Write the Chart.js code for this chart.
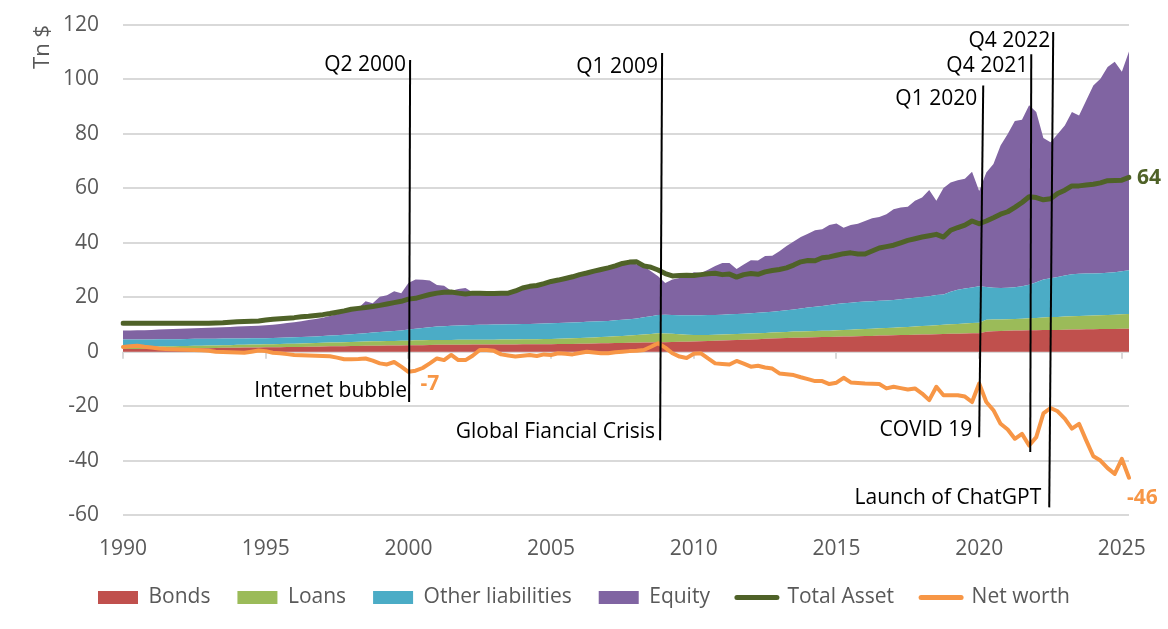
<!DOCTYPE html>
<html><head><meta charset="utf-8">
<script src="https://cdn.jsdelivr.net/npm/chart.js@4.4.1/dist/chart.umd.min.js"></script>
<style>html,body{margin:0;padding:0;background:#fff;}canvas{display:block;}</style>
</head><body>
<canvas id="c" width="1168" height="629"></canvas>
<script>
const FONT = "'Open Sans', sans-serif";

// Categories: quarters from Q1 1990 to Q2 2025
const startYear = 1990;
const quarterCount = 142;
const quarters = [];
for (let i = 0; i < quarterCount; i++) quarters.push('Q' + (i % 4 + 1) + ' ' + (startYear + Math.floor(i / 4)));
const yearTickLabels = [1990, 1995, 2000, 2005, 2010, 2015, 2020, 2025];

// Series (Tn $), quarterly
const bonds = [
1.0,1.0,1.0,1.0, 1.05,1.1,1.1,1.15, 1.2,1.2,1.25,1.3, 1.3,1.35,1.4,1.4, 1.45,1.5,1.5,1.55,
1.6,1.6,1.65,1.7, 1.7,1.75,1.8,1.85, 1.9,1.95,2.0,2.0, 2.05,2.1,2.15,2.2, 2.2,2.25,2.3,2.3,
2.35,2.4,2.4,2.45, 2.5,2.5,2.5,2.55, 2.55,2.6,2.6,2.6, 2.6,2.65,2.65,2.65, 2.7,2.7,2.7,2.75,
2.75,2.8,2.8,2.85, 2.9,2.95,3.0,3.05, 3.1,3.15,3.2,3.25, 3.3,3.35,3.4,3.45, 3.5,3.55,3.6,3.65,
3.7,3.8,3.9,4.0, 4.1,4.2,4.3,4.4, 4.5,4.6,4.7,4.8, 4.9,5.0,5.1,5.15, 5.2,5.3,5.35,5.4,
5.5,5.55,5.6,5.7, 5.75,5.8,5.9,5.95, 6.0,6.1,6.15,6.2, 6.3,6.35,6.4,6.5, 6.55,6.6,6.7,6.75,
6.8,7.3,7.5,7.6, 7.7,7.75,7.8,7.85, 7.9,7.95,8.0,8.0, 8.05,8.1,8.15,8.2, 8.25,8.3,8.3,8.35,
8.4,8.4];
const loans = [
0.8,0.8,0.8,0.8, 0.8,0.8,0.85,0.85, 0.85,0.9,0.9,0.9, 0.95,0.95,1.0,1.0, 1.05,1.05,1.1,1.1,
1.15,1.15,1.2,1.2, 1.25,1.25,1.3,1.3, 1.35,1.4,1.4,1.45, 1.5,1.5,1.55,1.6, 1.6,1.65,1.65,1.7,
1.7,1.75,1.75,1.8, 1.8,1.8,1.8,1.8, 1.8,1.8,1.8,1.8, 1.8,1.8,1.85,1.85, 1.85,1.85,1.9,1.9,
1.9,1.95,2.0,2.05, 2.1,2.15,2.2,2.3, 2.4,2.5,2.6,2.7, 2.8,2.95,3.1,3.3, 3.2,3.0,2.8,2.6,
2.4,2.3,2.25,2.2, 2.2,2.2,2.2,2.2, 2.2,2.2,2.2,2.25, 2.25,2.25,2.3,2.3, 2.3,2.3,2.3,2.3,
2.35,2.4,2.45,2.5, 2.6,2.65,2.7,2.75, 2.8,2.9,2.95,3.0, 3.1,3.2,3.3,3.4, 3.5,3.55,3.65,3.75,
3.8,4.4,4.3,4.25, 4.2,4.25,4.3,4.4, 4.5,4.6,4.7,4.75, 4.85,4.9,4.95,5.0, 5.05,5.1,5.15,5.2,
5.3,5.4];
const otherLiabilities = [
2.7,2.7,2.7,2.7, 2.65,2.65,2.65,2.6, 2.55,2.55,2.55,2.5, 2.45,2.45,2.4,2.4, 2.35,2.3,2.3,2.25,
2.15,2.25,2.25,2.3, 2.35,2.4,2.4,2.45, 2.5,2.55,2.65,2.75, 2.85,3.0,3.1,3.2, 3.4,3.5,3.65,3.8,
4.05,4.25,4.55,4.75, 4.9,5.05,5.2,5.25, 5.4,5.4,5.45,5.5, 5.55,5.55,5.55,5.6, 5.6,5.65,5.65,5.7,
5.8,5.8,5.85,5.85, 5.85,5.85,5.85,5.8, 5.8,5.85,5.9,5.95, 6.1,6.3,6.5,6.75, 6.9,6.95,7.0,7.15,
7.3,7.3,7.3,7.3, 7.3,7.3,7.3,7.3, 7.4,7.5,7.6,7.65, 7.75,7.95,8.1,8.45, 8.7,8.9,9.15,9.4,
9.65,9.85,9.95,10.0, 10.05,10.05,10.1,10.1, 10.2,10.3,10.4,10.6, 10.7,10.85,11.1,11.1, 11.95,12.55,12.85,13.1,
13.4,12.1,11.7,11.55, 11.6,11.7,11.9,12.35, 13.1,13.95,14.3,14.65, 15.1,15.4,15.5,15.5, 15.4,15.4,15.55,15.65,
15.8,16.1];
const equity = [
3.3,3.3,3.4,3.4, 3.5,3.55,3.6,3.7, 3.8,3.85,3.9,4.0, 4.1,4.15,4.2,4.3, 4.35,4.45,4.5,4.6,
4.8,4.9,5.1,5.3, 5.5,5.8,6.1,6.4, 6.75,7.2,7.65,8.2, 8.9,9.4,11.7,10.8, 13.0,13.3,14.6,13.7,
17.1,18.1,17.7,17.1, 15.3,14.85,12.9,13.4, 13.65,12.0,11.65,11.4, 11.25,11.4,11.45,12.9, 13.85,14.1,14.35,15.15,
16.05,16.45,16.95,17.55, 18.05,18.55,19.15,19.65, 20.1,20.5,20.9,21.0, 19.8,18.8,16.5,14.2, 11.6,13.0,13.7,14.3,
15.8,15.5,16.65,18.0, 19.0,18.9,16.6,18.1, 19.5,19.2,20.6,20.5, 22.0,23.6,25.0,26.2, 27.1,28.1,28.2,29.4,
29.6,27.7,28.5,28.8, 29.6,30.5,30.8,31.7, 33.3,33.7,33.7,35.6, 36.5,39.0,34.6,39.1, 40.1,40.3,40.3,42.5,
35.0,42.0,45.4,52.3, 56.5,61.0,61.2,65.9, 62.5,52.0,49.9,52.6, 55.1,59.6,58.2,63.6, 69.1,71.5,75.6,77.3,
73.3,80.4];
const totalAsset = [
10.4,10.4,10.4,10.4, 10.4,10.4,10.4,10.4, 10.4,10.4,10.4,10.4, 10.4,10.5,10.6,10.8, 11.0,11.1,11.2,11.3,
11.6,11.9,12.1,12.3, 12.5,12.8,13.0,13.3, 13.6,14.0,14.5,15.0, 15.6,15.9,16.2,16.6, 17.0,17.5,18.0,18.5,
19.3,19.6,20.3,21.0, 21.5,21.8,21.9,21.5, 21.2,21.5,21.5,21.4, 21.4,21.5,21.5,22.3, 23.4,24.0,24.3,25.0,
25.8,26.3,26.9,27.5, 28.3,28.9,29.6,30.2, 30.8,31.5,32.4,32.9, 33.0,31.5,31.0,30.0, 28.7,27.8,28.0,28.1,
28.0,28.3,28.6,28.8, 28.3,28.5,27.4,28.3, 28.7,28.4,29.3,29.8, 30.2,30.8,31.8,33.0, 33.5,33.4,34.5,34.8,
35.4,36.0,36.3,35.9, 35.9,37.0,38.1,38.6, 39.1,40.0,40.9,41.5, 42.1,42.6,43.1,42.1, 44.6,45.6,46.5,48.0,
47.0,48.0,49.2,50.5, 51.4,53.0,54.8,56.9, 56.6,55.8,56.2,58.1, 59.3,60.9,60.9,61.2, 61.5,62.0,62.8,62.9,
63.0,64.0];
const netWorth = [
1.7,2.0,2.2,1.8, 1.5,1.2,1.0,0.9, 0.8,0.7,0.6,0.5, 0.3,0.0,-0.1,-0.2, -0.3,-0.4,0.0,0.4,
0.2,-0.4,-0.6,-0.9, -1.2,-1.3,-1.4,-1.5, -1.6,-1.7,-2.2,-2.8, -2.8,-2.7,-2.5,-3.3, -4.3,-4.7,-3.8,-5.5,
-7.4,-7.0,-6.0,-4.3, -2.5,-3.1,-1.2,-3.1, -3.1,-1.5,0.6,0.6, 0.3,-1.0,-1.4,-1.8, -1.5,-1.2,-1.6,-1.0,
-1.2,-0.6,-0.8,-1.0, -0.5,0.0,-0.3,-0.6, -0.6,-0.2,0.0,0.2, 0.3,0.6,1.8,3.1, 1.5,-0.6,-1.8,-2.3,
-0.8,-0.6,-2.5,-4.3, -4.5,-4.7,-3.4,-4.4, -5.5,-5.2,-5.8,-6.2, -8.0,-8.3,-8.6,-9.4, -10.1,-10.8,-10.8,-11.9,
-11.4,-9.6,-11.3,-11.5, -11.7,-11.8,-11.9,-13.5, -12.9,-13.4,-13.9,-13.5, -15.4,-17.8,-12.9,-16.0, -16.0,-16.0,-16.5,-18.5,
-11.7,-18.5,-21.5,-26.5, -28.6,-32.0,-30.2,-34.5, -31.4,-22.7,-20.7,-21.9, -24.6,-28.3,-26.5,-32.6, -38.4,-40.0,-42.8,-44.9,
-39.4,-46.3];

// Annotations (x in quarter-index units, y in Tn $)
const eventLines = [
  {x1: 40.24, y1: 107.1, x2: 40.10, y2: -18.5},
  {x1: 75.56, y1: 109.7, x2: 75.28, y2: -32.5},
  {x1: 120.57, y1: 97.8, x2: 120.0, y2: -31.4},
  {x1: 127.30, y1: 109.3, x2: 127.16, y2: -36.9},
  {x1: 130.38, y1: 117.4, x2: 129.82, y2: -57.2}
];
const eventTexts = [
  {text: 'Q2 2000', x: 39.68, y: 105.2},
  {text: 'Internet bubble', x: 39.82, y: -14.4},
  {text: 'Q1 2009', x: 75.0, y: 104.5},
  {text: 'Global Fiancial Crisis', x: 74.58, y: -29.5},
  {text: 'Q1 2020', x: 119.72, y: 92.7},
  {text: 'COVID 19', x: 119.02, y: -28.8},
  {text: 'Q4 2021', x: 126.87, y: 104.9},
  {text: 'Q4 2022', x: 129.96, y: 114.1},
  {text: 'Launch of ChatGPT', x: 128.7, y: -53.9}
];

const COLORS = {bonds:'#C0504D', loans:'#9BBB59', other:'#4BACC6', equity:'#8064A2', total:'#4F6228', net:'#F79646'};

const isYearTick = (i) => i % 4 === 0 && yearTickLabels.includes(startYear + i / 4);

const zeroTicks = {
  id: 'zeroTicks',
  beforeDatasetsDraw(chart) {
    const {ctx, scales: {x, y}} = chart;
    const y0 = y.getPixelForValue(0);
    ctx.save();
    ctx.strokeStyle = '#D9D9D9'; ctx.lineWidth = 2;
    x.ticks.forEach(t => {
      const px = Math.round(x.getPixelForValue(t.value));
      ctx.beginPath(); ctx.moveTo(px, y0); ctx.lineTo(px, y0 + 7); ctx.stroke();
    });
    ctx.restore();
  }
};

const annotations = {
  id: 'annotations',
  afterDatasetsDraw(chart) {
    const {ctx, scales: {x, y}} = chart;
    ctx.save();
    ctx.strokeStyle = '#000'; ctx.lineWidth = 2;
    eventLines.forEach(l => {
      ctx.beginPath();
      ctx.moveTo(x.getPixelForValue(l.x1), y.getPixelForValue(l.y1));
      ctx.lineTo(x.getPixelForValue(l.x2), y.getPixelForValue(l.y2));
      ctx.stroke();
    });
    ctx.fillStyle = '#000';
    ctx.font = '21px ' + FONT;
    ctx.textAlign = 'right'; ctx.textBaseline = 'middle';
    eventTexts.forEach(t => ctx.fillText(t.text, x.getPixelForValue(t.x), y.getPixelForValue(t.y)));

    // value labels
    ctx.font = 'bold 21px ' + FONT;
    ctx.textAlign = 'left';
    const last = quarterCount - 1;
    ctx.fillStyle = COLORS.total;
    ctx.fillText(String(Math.round(totalAsset[last])), x.getPixelForValue(last) + 8, y.getPixelForValue(totalAsset[last]) + 1);
    ctx.fillStyle = COLORS.net;
    ctx.fillText(String(Math.round(netWorth[last])), x.getPixelForValue(last) - 2, y.getPixelForValue(netWorth[last]) + 20);
    let mi = 36;
    for (let i = 36; i < 48; i++) if (netWorth[i] < netWorth[mi]) mi = i;
    ctx.fillText(String(Math.round(netWorth[mi])), x.getPixelForValue(mi) + 12, y.getPixelForValue(netWorth[mi]) + 12);
    ctx.restore();
  }
};

const areaDs = (label, data, color, fill) => ({
  label, data, backgroundColor: color, borderColor: color, borderWidth: 0,
  pointRadius: 0, pointHoverRadius: 0, fill, stack: 'liab', order: 2, tension: 0
});

new Chart(document.getElementById('c'), {
  type: 'line',
  data: {
    labels: quarters,
    datasets: [
      areaDs('Bonds', bonds, COLORS.bonds, 'origin'),
      areaDs('Loans', loans, COLORS.loans, '-1'),
      areaDs('Other liabilities', otherLiabilities, COLORS.other, '-1'),
      areaDs('Equity', equity, COLORS.equity, '-1'),
      {label: 'Total Asset', data: totalAsset, borderColor: COLORS.total, backgroundColor: COLORS.total,
       borderWidth: 5, pointRadius: 0, fill: false, stack: 'ta', order: 1, borderCapStyle: 'round', borderJoinStyle: 'round', tension: 0},
      {label: 'Net worth', data: netWorth, borderColor: COLORS.net, backgroundColor: COLORS.net,
       borderWidth: 4, pointRadius: 0, fill: false, stack: 'nw', order: 0, borderCapStyle: 'round', borderJoinStyle: 'round', tension: 0}
    ]
  },
  options: {
    responsive: false,
    animation: false,
    events: [],
    layout: {padding: {left: 0, right: 0, top: 25, bottom: 11}},
    plugins: {
      tooltip: {enabled: false},
      legend: {
        position: 'bottom',
        labels: {
          usePointStyle: true, pointStyleWidth: 40, boxHeight: 13, padding: 27,
          color: '#595959', font: {family: FONT, size: 21},
          generateLabels: (chart) => chart.data.datasets.map((ds, i) => {
            const line = ds.stack !== 'liab';
            return {text: ds.label, datasetIndex: i, hidden: false,
              fillStyle: ds.backgroundColor, strokeStyle: ds.borderColor,
              lineWidth: line ? 5 : 0, pointStyle: line ? 'line' : 'rect', lineCap: 'round', fontColor: '#595959'};
          })
        }
      }
    },
    scales: {
      x: {
        type: 'category', offset: false,
        grid: {display: false, drawTicks: false}, border: {display: false},
        afterBuildTicks: (s) => { s.ticks = s.ticks.filter(t => isYearTick(t.value)); },
        afterFit: (s) => { s.height = 45; },
        ticks: {autoSkip: false, maxRotation: 0, padding: 21, color: '#595959', font: {family: FONT, size: 21},
          callback: (v) => String(startYear + v / 4)}
      },
      y: {
        stacked: true, min: -60, max: 120,
        grid: {color: '#D9D9D9', lineWidth: 2, drawTicks: false}, border: {display: false},
        afterFit: (s) => { s.width = 123; s.paddingTop = 0; s.paddingBottom = 0; },
        ticks: {stepSize: 20, padding: 24, color: '#595959', font: {family: FONT, size: 21}},
        title: {display: true, text: 'Tn $', align: 'end', color: '#595959', font: {family: FONT, size: 22}, padding: {top: 30, bottom: 0}}
      },
      yRight: {
        type: 'linear', position: 'right', display: true,
        grid: {display: false, drawTicks: false}, border: {display: false},
        ticks: {display: false},
        afterFit: (s) => { s.width = 39; s.paddingTop = 0; s.paddingBottom = 0; }
      }
    }
  },
  plugins: [zeroTicks, annotations]
});
</script>
</body></html>
